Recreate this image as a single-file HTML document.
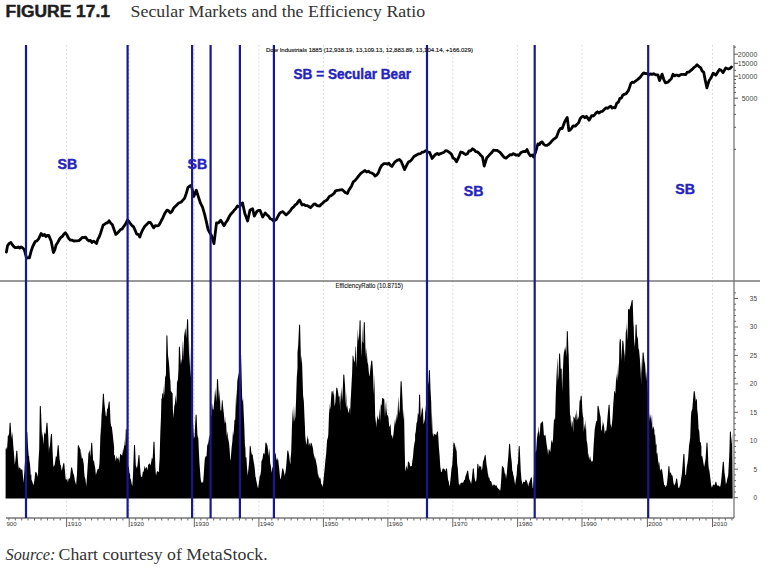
<!DOCTYPE html><html><head><meta charset="utf-8"><style>
html,body{margin:0;padding:0;background:#fff;}
body{width:768px;height:572px;overflow:hidden;position:relative;}
svg{position:absolute;left:0;top:0;}
.t{position:absolute;white-space:nowrap;}
</style></head><body>
<svg width="768" height="572" viewBox="0 0 768 572">
<line x1="66.6" y1="45" x2="66.6" y2="518" stroke="#d4d4d4" stroke-width="1" stroke-dasharray="1.5,2.5"/>
<line x1="129.2" y1="45" x2="129.2" y2="518" stroke="#d4d4d4" stroke-width="1" stroke-dasharray="1.5,2.5"/>
<line x1="194.3" y1="45" x2="194.3" y2="518" stroke="#d4d4d4" stroke-width="1" stroke-dasharray="1.5,2.5"/>
<line x1="258.9" y1="45" x2="258.9" y2="518" stroke="#d4d4d4" stroke-width="1" stroke-dasharray="1.5,2.5"/>
<line x1="323.4" y1="45" x2="323.4" y2="518" stroke="#d4d4d4" stroke-width="1" stroke-dasharray="1.5,2.5"/>
<line x1="387.9" y1="45" x2="387.9" y2="518" stroke="#d4d4d4" stroke-width="1" stroke-dasharray="1.5,2.5"/>
<line x1="452.8" y1="45" x2="452.8" y2="518" stroke="#d4d4d4" stroke-width="1" stroke-dasharray="1.5,2.5"/>
<line x1="517.6" y1="45" x2="517.6" y2="518" stroke="#d4d4d4" stroke-width="1" stroke-dasharray="1.5,2.5"/>
<line x1="582.0" y1="45" x2="582.0" y2="518" stroke="#d4d4d4" stroke-width="1" stroke-dasharray="1.5,2.5"/>
<line x1="647.4" y1="45" x2="647.4" y2="518" stroke="#d4d4d4" stroke-width="1" stroke-dasharray="1.5,2.5"/>
<line x1="712.5" y1="45" x2="712.5" y2="518" stroke="#d4d4d4" stroke-width="1" stroke-dasharray="1.5,2.5"/>
<polygon points="5.6,498.6 5.6,447.1 5.6,449.2 6.3,447.0 7.0,450.0 7.7,439.1 7.8,435.9 8.4,435.8 9.1,433.2 9.6,423.1 10.1,422.5 10.6,423.1 11.2,432.7 11.9,438.5 12.3,431.5 12.6,435.6 13.3,445.7 14.0,454.0 14.5,460.5 14.7,464.7 15.4,460.6 16.3,451.1 16.8,450.5 17.3,451.1 18.2,464.3 18.9,468.9 19.0,467.2 19.6,467.8 20.3,468.1 21.0,470.2 21.7,469.0 22.4,469.7 22.4,469.5 23.1,478.3 23.5,482.9 23.8,478.6 24.5,469.9 24.6,467.2 25.2,459.1 25.9,453.6 26.3,432.1 26.8,431.5 27.3,432.1 28.0,447.0 28.7,455.9 29.1,456.1 29.4,460.2 30.1,464.8 30.8,475.6 31.3,474.0 31.5,479.7 32.2,481.2 32.9,483.4 33.6,485.4 33.6,485.1 34.3,481.0 35.3,472.3 35.8,471.7 36.3,472.3 37.1,473.9 37.8,477.3 38.0,474.0 38.5,460.3 39.2,449.4 39.8,406.3 40.3,405.7 40.8,406.3 41.3,418.1 42.0,437.7 42.5,431.5 42.7,434.6 43.4,444.8 44.1,434.4 44.7,432.6 44.8,432.2 45.5,434.6 46.5,423.1 47.0,422.5 47.5,423.1 48.3,437.1 49.0,453.2 49.2,444.9 49.7,448.9 50.4,439.2 51.0,434.3 51.5,433.7 52.0,434.3 52.5,449.0 53.2,464.5 53.7,467.2 53.9,466.4 54.6,464.9 55.3,460.7 55.9,456.1 56.0,455.9 56.7,457.2 57.7,445.5 58.2,444.9 58.7,445.5 59.5,458.3 60.2,463.5 60.4,465.0 60.9,465.2 61.6,470.7 62.3,468.3 63.3,463.4 63.8,462.8 64.3,463.4 65.1,472.8 65.8,480.1 66.0,478.4 66.5,480.1 67.2,478.4 67.9,482.4 68.6,478.6 69.3,478.7 69.4,478.4 70.0,478.1 71.1,467.8 71.6,467.2 72.1,467.8 72.8,471.0 73.5,474.8 73.8,474.0 74.2,476.2 74.9,480.7 75.6,483.1 76.1,485.1 76.3,482.2 77.0,474.2 77.8,445.5 78.3,444.9 78.8,445.5 79.8,448.2 80.5,449.5 81.2,458.5 81.7,451.6 81.9,458.9 82.6,457.6 83.3,461.6 83.9,465.0 84.0,469.5 84.7,477.0 85.4,478.9 86.1,485.1 86.1,487.5 86.8,479.2 87.5,468.4 88.2,458.0 88.4,453.8 88.9,452.2 89.6,449.7 90.3,456.9 91.2,443.2 91.7,442.6 92.2,443.2 93.1,459.6 93.8,461.8 94.0,460.5 94.5,464.2 95.2,468.1 95.9,474.9 96.2,474.0 96.6,472.4 97.3,469.9 98.0,468.8 98.7,469.1 99.4,464.1 99.6,460.5 100.1,445.1 100.7,424.7 100.8,436.2 101.5,416.1 102.2,407.3 102.9,394.0 103.4,393.4 103.9,394.0 104.3,401.7 105.0,408.7 105.6,413.6 105.7,415.6 106.4,416.6 107.1,408.8 107.8,408.5 108.7,401.9 109.2,401.3 109.7,401.9 110.6,422.7 111.3,426.6 111.9,427.0 112.0,428.2 112.7,434.3 113.4,440.7 114.1,447.1 114.1,455.6 114.8,454.7 115.5,461.3 116.2,455.7 116.3,456.1 116.9,459.3 117.6,457.6 118.3,460.0 119.0,456.0 119.7,463.6 120.0,454.8 120.4,453.8 121.1,454.8 121.8,455.5 122.2,449.2 122.5,456.1 123.2,450.7 123.9,447.4 124.5,439.1 124.6,446.1 125.3,445.3 125.8,429.6 126.3,429.0 126.8,429.6 127.4,458.8 127.8,459.2 128.1,466.8 128.8,466.7 129.5,473.6 130.1,473.8 130.2,478.0 130.9,479.6 131.6,483.5 132.3,486.1 132.3,486.5 133.0,474.7 134.0,445.3 134.5,444.7 135.0,445.3 135.8,465.0 136.5,468.7 136.8,466.0 137.2,467.6 137.9,461.6 138.5,455.4 139.0,454.8 139.5,455.4 140.0,465.8 140.7,475.1 141.3,477.1 141.4,476.8 142.1,477.1 142.8,472.1 143.5,471.8 144.2,468.8 144.6,466.0 144.9,466.2 145.6,468.9 146.3,467.0 147.0,467.7 147.7,470.6 148.0,464.8 148.4,464.8 149.1,463.7 149.8,463.6 150.5,465.6 151.2,461.9 151.3,461.5 151.9,457.3 152.6,459.5 153.5,442.0 154.0,441.4 154.5,442.0 155.4,467.3 155.8,473.8 156.1,475.4 156.8,471.7 157.5,470.9 158.2,472.1 158.9,471.8 159.1,466.0 159.6,458.7 160.3,432.9 161.0,416.5 161.4,398.8 161.7,399.0 162.4,393.1 163.1,393.9 163.6,385.4 163.8,398.6 164.5,390.0 165.2,375.0 165.9,377.2 166.4,335.8 166.9,335.2 167.4,335.8 168.0,355.3 168.7,360.4 169.4,368.4 170.1,380.3 170.3,378.7 170.8,391.0 171.5,391.8 172.2,392.9 172.6,393.3 172.9,409.4 173.6,417.7 174.3,405.8 174.8,404.4 175.0,402.4 175.7,394.8 176.4,404.3 177.0,381.0 177.1,379.6 177.8,382.4 178.5,368.4 178.9,347.0 179.4,346.4 179.9,347.0 180.6,360.4 181.0,365.0 181.3,361.8 182.0,358.5 182.7,343.8 183.0,340.0 183.4,360.1 184.1,336.3 184.8,331.7 185.0,330.0 185.5,328.0 186.2,338.7 187.1,319.7 187.6,319.1 188.1,319.7 189.0,353.2 189.7,367.2 189.9,339.4 190.4,369.0 191.1,379.2 191.6,394.4 191.8,402.8 192.5,412.3 193.2,425.3 193.8,436.9 193.9,438.7 194.6,436.2 195.6,415.1 196.1,414.5 196.6,415.1 197.4,434.6 198.1,438.3 198.3,436.9 198.8,450.0 199.5,463.4 200.2,472.5 200.5,477.1 200.9,480.6 201.6,482.9 202.3,481.5 202.8,482.7 203.0,483.5 203.7,474.9 204.4,464.1 205.0,457.0 205.1,458.1 205.8,455.9 206.5,456.5 207.2,445.5 207.9,443.7 208.4,436.9 208.6,444.8 209.3,437.0 210.0,435.0 210.7,417.9 211.4,415.1 211.7,404.4 212.1,403.3 212.8,409.5 213.5,409.5 214.2,401.1 214.7,390.0 214.9,400.5 215.6,387.5 216.3,402.3 217.0,379.6 217.5,379.0 218.0,379.6 219.1,401.2 219.6,389.9 219.8,392.8 220.5,410.5 221.2,410.6 221.9,400.4 222.5,400.0 222.6,400.8 223.3,408.8 224.0,415.0 224.7,424.1 225.1,416.7 225.4,422.3 226.1,422.7 226.8,436.2 227.5,431.0 228.2,443.2 228.5,436.9 228.9,441.3 229.6,449.2 230.3,460.5 230.7,459.2 231.0,455.6 231.7,446.8 232.4,441.0 233.0,430.2 233.1,436.2 233.8,431.2 234.5,419.7 235.2,419.8 235.9,398.9 236.3,388.8 236.6,406.7 237.3,381.3 238.0,377.0 238.5,372.0 238.7,377.4 239.4,366.8 240.1,355.1 240.6,354.5 241.1,355.1 242.2,399.1 242.9,401.4 243.0,396.6 243.6,411.2 244.3,426.6 245.0,447.8 245.3,445.8 245.7,457.7 246.4,457.1 247.1,468.8 247.8,475.9 248.0,472.7 248.5,468.3 249.2,460.7 249.7,446.4 250.2,445.8 250.7,446.4 251.3,451.9 252.0,455.2 252.7,454.0 253.4,464.3 253.6,457.0 254.1,463.5 254.8,468.9 255.5,477.5 255.8,477.1 256.2,480.3 256.9,483.2 257.6,487.1 258.1,488.3 258.3,486.7 259.0,482.0 259.7,476.1 260.4,474.9 261.1,469.8 261.4,461.5 261.8,460.4 262.5,458.7 263.2,454.0 263.9,452.7 264.6,454.7 265.4,443.1 265.9,442.5 266.4,443.1 267.4,445.4 268.1,450.1 268.8,456.1 269.3,448.1 269.5,450.5 270.2,463.1 270.9,466.0 271.5,472.7 271.6,472.3 272.3,468.1 273.0,466.8 273.7,460.1 274.3,453.1 274.8,452.5 275.3,453.1 275.8,454.6 276.5,460.4 277.2,457.4 277.9,460.7 278.2,459.2 278.6,463.3 279.3,469.5 280.0,477.0 280.4,479.4 280.7,478.7 281.4,475.2 282.2,468.8 282.7,468.2 283.2,468.8 284.2,473.0 284.9,476.8 284.9,474.9 285.6,471.4 286.3,465.0 287.3,450.9 287.8,450.3 288.3,450.9 289.1,455.1 289.8,461.5 290.5,464.4 290.5,459.2 291.2,451.9 291.9,427.9 292.6,411.9 292.7,407.8 293.3,421.9 294.0,405.3 294.7,421.7 295.4,416.1 296.1,399.2 296.1,398.8 296.8,377.0 297.5,367.8 297.5,352.4 298.2,345.2 299.1,325.1 299.6,324.5 300.1,325.1 301.0,363.9 301.7,355.3 301.9,357.7 302.4,373.2 303.1,395.6 303.8,400.7 304.5,417.2 305.0,427.9 305.2,435.0 305.9,441.9 306.6,445.0 307.3,434.9 308.0,440.0 308.4,438.0 308.7,445.4 309.4,442.6 310.1,446.2 310.8,442.4 311.5,443.2 311.8,443.6 312.2,445.3 312.9,448.1 313.6,453.8 314.3,456.1 315.0,459.3 315.1,457.0 315.7,459.9 316.4,463.2 317.1,466.5 317.8,473.6 318.5,477.8 318.5,472.7 319.2,478.9 319.9,477.0 320.6,479.1 321.3,484.4 322.0,484.0 322.7,487.0 322.9,486.1 323.4,481.0 324.1,474.1 324.8,467.1 325.5,459.2 326.2,453.5 326.9,442.4 327.4,436.9 327.6,440.3 328.3,434.4 329.0,414.1 329.7,407.2 329.7,403.3 330.4,409.6 331.1,397.6 331.6,390.9 331.8,391.6 332.5,390.9 333.2,395.5 333.9,389.4 334.6,406.4 335.3,402.6 336.3,388.0 336.8,387.4 337.3,388.0 338.1,392.3 338.8,397.3 339.5,395.6 340.2,411.6 340.3,390.9 340.9,402.4 341.6,386.3 342.3,400.9 343.3,374.9 343.8,374.3 344.3,374.9 345.1,386.4 345.8,405.0 346.4,390.9 346.5,408.0 347.2,404.9 347.9,410.2 348.6,413.2 349.3,408.4 349.8,407.8 350.0,415.5 350.7,399.0 350.8,397.9 351.4,386.6 352.1,373.3 352.6,355.9 352.8,355.2 353.5,356.6 354.2,362.6 354.9,359.9 355.2,347.2 355.6,345.9 356.3,367.5 357.0,348.5 357.7,332.6 357.8,328.0 358.4,341.0 359.1,334.9 359.6,320.7 360.1,320.1 360.6,320.7 361.2,357.6 361.9,338.3 362.2,324.5 362.6,341.2 363.3,343.5 363.8,322.5 364.3,321.9 364.8,322.5 365.4,347.0 366.1,359.6 366.5,347.2 366.8,352.3 367.5,362.1 368.2,364.9 368.9,373.1 369.2,375.2 369.6,376.5 370.3,369.1 371.3,360.9 371.8,360.3 372.3,360.9 373.1,373.6 373.8,394.4 374.4,373.4 374.5,384.1 375.2,416.5 375.9,422.9 376.0,419.0 376.6,427.7 377.3,414.8 378.0,418.6 378.7,420.3 379.4,407.8 379.4,407.8 380.1,421.7 380.8,404.0 381.5,405.7 382.2,398.3 382.7,397.7 383.2,398.3 384.3,399.4 385.0,417.6 385.7,404.2 386.1,401.1 386.4,408.5 387.1,414.7 387.8,415.4 388.3,416.7 388.5,418.6 389.2,426.3 389.9,426.5 390.5,423.5 390.6,425.4 391.3,436.1 392.0,434.8 392.7,438.4 392.8,439.1 393.4,434.4 394.1,427.2 394.8,421.2 395.0,419.0 395.5,425.1 396.2,413.8 396.9,421.3 397.6,412.7 398.3,397.3 398.4,396.6 399.0,413.8 399.7,408.6 400.6,381.6 401.1,381.0 401.6,381.6 402.5,399.7 403.2,420.3 403.9,410.1 404.0,410.0 404.6,443.7 405.1,466.0 405.3,471.5 406.0,468.3 406.7,465.3 407.4,469.7 407.9,462.1 408.4,461.5 408.9,462.1 409.5,463.1 410.2,466.6 410.9,466.2 411.6,466.0 411.8,466.0 412.3,461.3 413.0,457.0 413.7,448.1 414.4,443.5 415.1,440.3 415.1,434.6 415.8,431.3 416.5,423.1 417.2,421.5 417.9,412.7 418.6,414.9 419.1,395.0 419.6,394.4 420.1,395.0 420.7,417.4 421.4,413.0 422.1,406.9 422.8,409.3 423.0,410.0 423.5,424.6 424.2,422.0 424.9,418.8 425.2,412.3 425.6,409.9 426.3,400.6 427.0,400.9 427.7,389.8 427.9,380.0 428.4,385.2 428.9,370.6 429.4,370.0 429.9,370.6 430.5,389.4 431.2,401.7 431.9,428.9 431.9,412.3 432.6,432.4 433.3,437.1 434.0,432.7 434.2,434.6 434.7,434.1 435.4,434.4 436.1,435.1 437.0,431.9 437.5,431.3 438.0,431.9 438.9,447.5 439.6,455.5 440.3,466.7 440.9,470.4 441.0,472.0 441.7,471.9 442.6,468.8 443.1,468.2 443.6,468.8 444.5,468.9 445.2,471.6 446.0,468.8 446.5,468.2 447.0,468.8 448.0,479.3 448.7,481.6 449.4,485.7 449.8,486.1 450.1,483.1 450.8,476.3 451.5,468.4 452.2,465.6 452.9,454.4 453.4,443.1 453.9,442.5 454.4,443.1 455.0,445.1 455.7,448.0 456.4,451.6 456.5,445.8 457.1,463.0 457.8,468.5 458.5,479.5 458.8,483.9 459.2,483.7 459.9,485.7 460.6,483.0 461.3,482.6 462.0,483.3 462.7,482.6 463.2,481.6 463.4,482.7 464.1,479.7 464.8,480.1 465.5,475.9 466.2,474.4 467.2,471.0 467.7,470.4 468.2,471.0 469.0,478.0 469.7,480.3 470.4,481.4 471.1,484.0 471.1,483.9 471.8,479.4 472.8,468.8 473.3,468.2 473.8,468.8 474.6,478.1 475.3,481.1 475.6,481.6 476.0,481.8 476.7,477.2 477.3,464.3 477.8,463.7 478.3,464.3 478.8,468.8 479.5,465.5 480.2,466.0 480.9,466.9 481.1,466.0 481.6,470.6 482.3,468.5 483.0,461.3 483.7,459.9 484.7,455.4 485.2,454.8 485.7,455.4 486.5,464.5 487.2,468.3 487.9,474.3 487.9,472.7 488.6,477.5 489.3,477.6 490.0,480.9 490.7,481.0 491.4,481.7 492.1,485.1 492.3,483.9 492.8,486.3 493.5,484.4 494.2,484.4 494.9,485.3 495.6,485.5 496.3,485.8 496.8,485.0 497.0,487.8 497.7,487.5 498.4,489.1 499.1,488.8 499.8,490.5 500.2,490.6 500.5,488.7 501.2,479.4 501.9,466.6 502.4,466.0 502.9,466.6 504.0,468.2 504.0,468.2 504.7,473.2 505.4,474.0 506.1,479.1 506.2,477.1 506.8,473.5 507.5,464.7 508.2,457.8 509.1,444.2 509.6,443.6 510.1,444.2 511.0,456.3 511.7,461.5 512.4,472.4 512.9,470.4 513.1,474.0 513.8,476.8 514.5,480.9 515.2,485.4 515.2,483.9 515.9,479.4 516.6,475.3 517.3,465.1 518.0,462.9 518.7,446.4 519.2,445.8 519.7,446.4 520.8,471.4 521.5,479.8 521.9,481.6 522.2,484.6 522.9,482.5 523.6,481.6 524.3,482.1 525.0,482.3 525.4,480.0 525.9,479.4 526.4,480.0 527.1,481.5 527.8,484.3 528.5,486.7 528.6,483.9 529.2,482.8 529.9,480.7 530.8,477.7 531.3,477.1 531.8,477.7 532.7,488.2 533.1,488.3 533.4,483.1 534.1,471.6 534.8,459.0 535.3,450.3 535.5,453.0 536.2,450.4 536.9,439.1 537.6,433.7 538.3,431.5 538.7,425.7 539.0,430.3 539.7,436.8 540.4,423.7 541.1,423.0 542.0,421.8 542.5,421.2 543.0,421.8 543.9,435.0 544.6,435.7 545.3,434.8 545.4,434.6 546.0,439.3 546.7,444.7 547.4,449.2 547.6,450.3 548.1,455.0 548.8,448.9 549.5,449.7 550.2,452.3 550.9,446.3 551.0,443.6 551.6,439.5 552.3,443.3 553.0,439.2 553.7,423.4 554.3,416.7 554.4,419.8 555.1,419.5 555.8,393.7 556.5,376.7 557.2,362.5 557.5,356.8 557.9,381.7 558.6,373.4 559.1,353.9 559.6,353.3 560.1,353.9 560.7,368.7 561.4,368.5 561.7,368.7 562.1,391.8 562.8,372.4 563.5,356.8 564.2,350.0 564.5,347.7 564.9,352.2 565.6,345.5 566.3,357.5 566.8,331.6 567.3,331.0 567.8,331.6 568.4,350.4 568.7,354.7 569.1,373.7 569.8,407.2 570.0,414.5 570.5,416.0 571.2,427.9 571.9,420.1 572.6,422.9 573.3,432.8 573.4,416.7 574.0,416.7 574.7,418.9 575.4,413.0 576.1,421.6 576.7,410.0 576.8,409.7 577.5,419.7 578.2,418.5 578.9,415.8 579.6,400.8 580.3,399.9 580.7,396.1 581.2,395.5 581.7,396.1 582.4,411.3 583.1,417.5 583.4,416.7 583.8,432.0 584.5,423.4 585.2,430.3 585.7,419.0 585.9,423.3 586.6,440.1 587.3,443.7 587.9,450.3 588.0,458.6 588.7,452.4 589.4,460.1 590.1,456.1 590.8,459.9 591.5,461.4 592.2,461.2 592.4,461.5 592.9,460.5 593.6,445.5 594.3,435.7 594.6,430.2 595.0,427.4 595.7,423.7 596.4,420.7 597.1,421.0 597.5,406.2 598.0,405.6 598.5,406.2 599.2,409.5 599.9,414.1 600.6,417.1 601.3,431.2 602.0,428.9 602.4,419.0 602.7,426.7 603.4,422.3 604.1,426.7 604.8,434.1 605.5,430.0 605.8,430.2 606.2,431.6 606.9,424.8 607.6,416.1 608.6,405.0 609.1,404.4 609.6,405.0 610.4,423.8 611.1,426.1 611.4,427.9 611.8,424.6 612.5,417.9 613.2,405.0 613.9,396.1 614.1,391.0 614.6,391.3 615.3,393.8 616.0,380.8 616.7,375.9 617.0,373.0 617.4,382.1 618.1,362.5 618.8,377.3 619.4,343.6 619.8,339.6 620.3,339.0 620.8,339.6 621.6,361.3 622.3,340.2 623.0,340.9 623.1,340.3 623.7,344.2 624.4,361.9 624.5,348.7 625.1,356.6 625.8,332.5 626.5,327.8 626.6,320.8 627.2,341.6 627.9,323.6 628.0,309.6 628.6,309.1 629.3,309.8 630.0,307.9 630.1,306.8 630.7,305.4 631.7,300.4 632.2,299.8 632.7,300.4 633.5,327.1 633.6,322.2 634.2,345.1 634.3,339.0 634.9,347.9 635.6,324.9 636.1,324.3 636.6,324.9 637.0,335.6 637.7,339.1 637.8,336.2 638.4,348.1 639.1,350.4 639.2,351.5 639.8,357.8 640.5,369.0 641.2,384.2 641.3,357.1 641.9,373.3 642.6,352.8 643.1,352.2 643.6,352.8 644.0,357.0 644.7,363.8 644.8,361.3 645.4,368.2 646.1,380.3 646.2,370.0 646.8,378.2 647.5,390.4 647.7,389.9 648.2,400.4 648.9,414.1 649.6,421.4 649.9,412.3 650.3,419.1 651.0,413.8 651.7,424.0 652.1,414.5 652.4,429.9 653.1,426.0 653.8,427.9 654.4,430.2 654.5,434.2 655.2,435.3 655.9,445.4 656.6,443.6 656.6,454.3 657.3,451.9 658.0,459.5 658.7,466.0 658.8,461.5 659.4,463.3 660.1,470.9 660.8,469.2 661.5,468.8 662.2,470.4 662.2,470.4 662.9,475.3 663.6,480.9 664.3,485.7 664.4,485.0 665.0,485.3 665.7,487.3 666.4,485.4 666.7,485.0 667.1,482.3 667.8,475.6 668.4,466.6 668.9,466.0 669.4,466.6 669.9,473.5 670.6,472.1 671.3,473.9 672.0,475.7 672.3,474.9 672.7,476.8 673.4,482.6 674.1,485.5 674.5,483.9 674.8,485.2 675.5,482.6 676.2,478.9 676.7,478.3 677.2,478.9 677.6,482.5 678.3,487.4 679.0,488.3 679.0,488.4 679.7,486.0 680.4,484.2 681.1,478.9 681.2,478.3 681.8,474.4 682.5,466.5 683.4,454.3 683.9,453.7 684.4,454.3 685.3,475.2 685.7,474.9 686.0,474.5 686.7,466.7 687.4,463.4 688.1,458.6 688.8,449.1 689.0,445.8 689.5,442.7 690.2,437.4 690.9,418.1 691.3,412.3 691.6,410.8 692.3,409.1 693.0,400.2 693.7,391.6 694.2,391.0 694.7,391.6 695.1,394.2 695.8,401.2 696.5,399.0 696.9,398.8 697.2,409.2 697.9,415.0 698.6,429.3 699.1,430.2 699.3,431.7 700.0,442.3 700.7,442.1 701.4,446.9 701.4,456.4 702.1,455.4 702.8,459.0 703.5,463.6 704.0,466.0 704.2,467.1 704.9,462.7 705.6,458.7 706.5,443.1 707.0,442.5 707.5,443.1 708.4,464.4 709.1,471.6 709.2,468.2 709.8,473.9 710.5,479.5 711.2,485.4 711.4,486.1 711.9,487.7 712.6,485.7 713.3,485.0 714.0,484.1 714.7,485.4 715.4,482.2 715.9,481.6 716.4,482.2 716.8,484.2 717.5,485.7 718.2,485.5 718.9,485.6 719.6,486.8 720.3,486.2 720.4,486.1 721.0,482.2 721.7,475.1 722.8,462.1 723.3,461.5 723.8,462.1 724.5,472.3 725.2,477.3 725.9,484.6 726.0,483.9 726.6,482.4 727.3,478.8 728.0,476.1 728.2,474.9 728.7,466.0 729.4,451.6 729.9,431.9 730.4,431.3 730.9,431.9 731.5,444.4 732.2,432.4 732.2,438.3 732.7,498.6" fill="#000"/>
<line x1="0" y1="281" x2="760" y2="281" stroke="#777" stroke-width="1.3"/>
<line x1="734" y1="45" x2="734" y2="518" stroke="#777" stroke-width="1.3"/>
<line x1="6" y1="518" x2="734" y2="518" stroke="#777" stroke-width="1.3"/>
<polyline points="6.4,252.1 7.5,245.9 9.2,243.4 10.9,242.4 13.4,246.2 15.1,247.6 16.8,247.7 18.3,247.0 19.8,248.0 21.2,247.0 22.7,247.9 24.3,249.6 26.5,258.0 27.9,257.9 29.4,257.9 31.1,251.3 32.7,246.5 35.2,241.5 36.9,240.9 38.6,238.9 41.1,233.5 42.8,235.6 44.5,234.4 45.9,236.5 47.3,235.5 48.7,235.4 51.2,241.3 53.4,252.6 54.8,249.9 56.2,244.7 57.9,242.2 59.6,239.0 61.1,237.2 62.5,236.3 64.0,234.0 65.4,232.7 67.1,235.3 68.8,238.6 70.5,240.2 72.2,240.2 73.8,241.0 75.5,240.9 77.2,240.8 78.9,240.7 80.5,239.4 82.2,237.3 83.9,237.6 85.6,237.1 87.2,239.5 88.9,240.9 90.4,240.4 91.9,242.5 93.5,241.1 95.0,242.2 96.5,243.5 97.9,239.1 99.3,236.7 100.7,232.7 103.2,224.9 104.7,224.2 106.2,223.0 107.6,222.8 109.1,220.7 110.8,223.2 112.4,224.7 114.1,229.7 115.8,234.4 117.4,233.1 119.1,231.3 120.5,229.5 122.0,229.1 123.4,227.0 125.5,224.2 127.6,219.9 130.1,223.2 131.8,225.3 133.4,226.6 135.1,230.2 136.8,234.2 138.3,234.4 139.8,237.1 141.2,233.1 142.7,229.7 144.8,226.2 146.8,224.4 148.5,222.5 150.2,222.3 151.9,224.8 153.6,227.9 155.3,225.6 156.9,225.9 158.6,225.5 160.0,223.4 161.4,220.5 162.8,217.8 164.9,213.2 167.0,210.1 168.7,210.8 170.3,212.8 172.0,211.4 173.7,207.9 175.4,206.3 177.0,204.7 178.7,203.0 180.2,202.5 181.6,201.7 183.1,199.9 184.6,198.3 186.3,193.4 188.0,187.4 189.7,186.1 191.3,185.3 193.8,196.5 196.3,190.2 198.4,196.8 200.5,203.2 202.6,207.3 204.7,214.6 206.4,221.9 208.1,229.6 209.8,232.8 211.4,235.3 214.0,243.7 216.5,222.9 218.6,222.8 220.7,220.2 222.3,222.8 224.0,225.7 225.7,222.8 227.3,220.5 229.0,217.1 230.7,214.3 232.4,212.5 234.1,210.3 235.7,208.8 237.4,206.0 239.1,206.7 240.8,205.1 242.5,202.9 245.0,214.1 247.6,221.0 250.0,210.1 252.6,208.8 254.3,216.2 256.8,211.5 258.5,210.3 260.1,210.4 262.7,217.1 265.2,212.9 266.9,214.9 268.5,216.1 270.2,218.7 271.9,219.3 273.6,221.1 276.1,219.8 277.8,216.6 279.4,213.6 281.1,212.2 282.8,211.6 284.4,213.3 286.1,214.9 288.2,212.9 290.3,210.8 292.0,208.2 293.7,206.8 295.4,204.7 296.8,204.0 298.2,201.5 299.6,200.1 302.1,205.0 303.8,204.5 305.4,205.5 307.1,205.6 308.8,206.5 310.5,207.7 312.1,206.1 313.8,204.2 315.3,203.9 316.8,205.4 318.2,205.9 319.7,206.0 321.2,204.3 322.7,203.2 324.2,201.5 325.7,200.8 327.2,199.7 329.3,196.5 331.4,195.5 332.8,194.4 334.2,193.2 335.6,190.8 337.3,190.3 339.0,190.1 340.6,189.8 342.3,189.6 344.0,191.4 345.7,192.8 347.4,193.5 348.8,190.2 350.2,188.1 351.6,185.9 353.3,181.8 354.9,180.6 356.6,178.6 358.7,175.8 360.8,173.3 362.9,171.9 365.0,170.5 366.7,172.0 368.4,171.2 370.0,172.5 371.7,173.0 373.4,173.9 375.1,176.0 376.8,175.1 378.5,172.5 380.1,168.3 381.8,165.3 383.9,163.7 386.0,163.7 387.5,164.1 388.9,163.3 390.4,165.4 391.9,166.4 393.3,164.2 394.7,162.2 396.1,161.2 397.8,160.0 399.4,159.5 401.1,161.3 402.8,165.2 404.5,169.6 407.0,164.6 408.7,161.8 410.3,161.1 412.0,159.3 413.7,156.8 415.3,155.8 417.0,154.7 418.7,153.8 420.4,153.7 422.1,152.2 423.8,152.0 425.4,150.8 427.1,151.9 429.6,152.4 432.1,158.5 433.8,156.3 435.5,154.5 437.2,153.4 438.8,154.5 440.5,153.6 442.2,153.0 443.9,152.4 445.5,150.6 447.2,150.9 449.3,152.4 451.4,154.1 453.1,158.1 454.8,159.0 456.5,161.9 458.6,157.4 460.7,152.0 462.4,152.4 464.0,153.6 465.7,154.5 467.4,153.8 469.0,151.0 470.7,150.8 472.4,148.8 474.1,149.7 475.7,151.7 477.4,151.9 479.1,153.4 480.8,155.3 482.5,157.0 484.2,166.0 486.7,158.0 489.0,155.4 490.5,153.7 491.9,152.4 493.4,150.2 495.1,150.4 496.8,150.3 498.5,151.3 500.1,152.4 501.8,154.5 503.9,157.2 506.0,158.2 508.1,156.3 510.2,154.7 511.6,154.9 513.0,153.7 514.4,154.1 515.8,155.2 517.2,154.8 518.6,155.6 520.7,152.8 522.8,151.6 524.2,151.5 525.6,151.5 527.0,149.5 528.6,153.3 530.3,155.8 532.0,155.0 533.7,157.0 535.8,151.4 537.9,143.9 539.3,144.6 540.7,142.5 542.1,141.9 543.8,144.4 545.4,145.4 547.1,145.4 548.8,144.3 550.4,142.8 552.1,140.7 554.2,138.8 556.3,137.4 558.9,130.7 560.5,128.3 562.2,128.6 564.7,121.7 567.2,117.4 568.9,130.6 570.3,129.9 571.7,128.2 573.1,125.8 575.2,126.2 577.3,124.1 578.7,122.6 580.1,118.7 581.5,117.1 583.2,116.3 584.8,117.7 586.5,116.3 589.1,120.2 591.6,115.7 593.0,116.0 594.5,115.0 596.0,112.9 597.4,111.8 599.1,113.0 600.8,111.6 602.5,111.3 605.0,108.7 606.4,107.8 607.8,108.3 609.2,106.9 610.7,106.2 612.2,108.1 613.6,107.4 615.1,107.8 616.8,103.2 618.5,102.0 619.9,98.3 621.3,98.1 622.7,95.3 624.4,94.2 626.0,93.8 628.5,90.4 631.0,83.1 632.4,82.2 633.8,82.5 635.2,81.3 637.8,79.4 640.3,77.1 642.0,74.7 643.6,72.9 645.3,73.5 647.0,73.7 648.7,75.0 650.4,73.9 652.0,74.4 653.7,73.7 655.8,74.9 657.9,75.0 659.6,80.6 662.1,74.1 663.8,79.5 665.4,82.9 668.0,82.1 669.7,80.2 671.3,78.7 673.0,74.3 674.5,75.9 676.0,75.1 677.4,75.2 678.9,75.9 680.6,74.6 682.2,74.4 683.9,74.4 685.6,74.7 687.3,72.1 688.9,72.1 690.6,70.7 692.2,69.4 693.8,67.7 695.4,66.5 697.0,64.7 698.8,66.3 700.6,67.6 702.2,71.1 703.7,72.2 705.3,80.4 706.9,87.9 709.0,80.8 710.4,78.7 711.8,76.2 713.2,73.2 715.8,75.2 717.6,72.2 719.4,69.4 721.2,70.3 723.1,72.6 725.7,68.0 728.4,69.0 730.0,68.5 731.5,66.9" fill="none" stroke="#000" stroke-width="2.8" stroke-linejoin="round" stroke-linecap="round"/>
<line x1="26" y1="45" x2="26" y2="518" stroke="#18188f" stroke-width="2.2"/>
<line x1="127.6" y1="45" x2="127.6" y2="518" stroke="#18188f" stroke-width="2.2"/>
<line x1="192.1" y1="45" x2="192.1" y2="518" stroke="#18188f" stroke-width="2.2"/>
<line x1="210.6" y1="45" x2="210.6" y2="518" stroke="#18188f" stroke-width="2.2"/>
<line x1="239.9" y1="45" x2="239.9" y2="518" stroke="#18188f" stroke-width="2.2"/>
<line x1="273.9" y1="45" x2="273.9" y2="518" stroke="#18188f" stroke-width="2.2"/>
<line x1="427.0" y1="45" x2="427.0" y2="518" stroke="#18188f" stroke-width="2.2"/>
<line x1="534.7" y1="45" x2="534.7" y2="518" stroke="#18188f" stroke-width="2.2"/>
<line x1="648.2" y1="45" x2="648.2" y2="518" stroke="#18188f" stroke-width="2.2"/>
<line x1="8.9" y1="518" x2="8.9" y2="520.5" stroke="#666" stroke-width="1"/>
<line x1="15.3" y1="518" x2="15.3" y2="520.5" stroke="#666" stroke-width="1"/>
<line x1="21.7" y1="518" x2="21.7" y2="520.5" stroke="#666" stroke-width="1"/>
<line x1="28.1" y1="518" x2="28.1" y2="520.5" stroke="#666" stroke-width="1"/>
<line x1="34.5" y1="518" x2="34.5" y2="520.5" stroke="#666" stroke-width="1"/>
<line x1="41.0" y1="518" x2="41.0" y2="520.5" stroke="#666" stroke-width="1"/>
<line x1="47.4" y1="518" x2="47.4" y2="520.5" stroke="#666" stroke-width="1"/>
<line x1="53.8" y1="518" x2="53.8" y2="520.5" stroke="#666" stroke-width="1"/>
<line x1="60.2" y1="518" x2="60.2" y2="520.5" stroke="#666" stroke-width="1"/>
<line x1="66.6" y1="518" x2="66.6" y2="527" stroke="#666" stroke-width="1"/>
<line x1="72.9" y1="518" x2="72.9" y2="520.5" stroke="#666" stroke-width="1"/>
<line x1="79.1" y1="518" x2="79.1" y2="520.5" stroke="#666" stroke-width="1"/>
<line x1="85.4" y1="518" x2="85.4" y2="520.5" stroke="#666" stroke-width="1"/>
<line x1="91.6" y1="518" x2="91.6" y2="520.5" stroke="#666" stroke-width="1"/>
<line x1="97.9" y1="518" x2="97.9" y2="520.5" stroke="#666" stroke-width="1"/>
<line x1="104.1" y1="518" x2="104.1" y2="520.5" stroke="#666" stroke-width="1"/>
<line x1="110.4" y1="518" x2="110.4" y2="520.5" stroke="#666" stroke-width="1"/>
<line x1="116.6" y1="518" x2="116.6" y2="520.5" stroke="#666" stroke-width="1"/>
<line x1="122.9" y1="518" x2="122.9" y2="520.5" stroke="#666" stroke-width="1"/>
<line x1="129.2" y1="518" x2="129.2" y2="527" stroke="#666" stroke-width="1"/>
<line x1="135.7" y1="518" x2="135.7" y2="520.5" stroke="#666" stroke-width="1"/>
<line x1="142.2" y1="518" x2="142.2" y2="520.5" stroke="#666" stroke-width="1"/>
<line x1="148.7" y1="518" x2="148.7" y2="520.5" stroke="#666" stroke-width="1"/>
<line x1="155.2" y1="518" x2="155.2" y2="520.5" stroke="#666" stroke-width="1"/>
<line x1="161.7" y1="518" x2="161.7" y2="520.5" stroke="#666" stroke-width="1"/>
<line x1="168.2" y1="518" x2="168.2" y2="520.5" stroke="#666" stroke-width="1"/>
<line x1="174.8" y1="518" x2="174.8" y2="520.5" stroke="#666" stroke-width="1"/>
<line x1="181.3" y1="518" x2="181.3" y2="520.5" stroke="#666" stroke-width="1"/>
<line x1="187.8" y1="518" x2="187.8" y2="520.5" stroke="#666" stroke-width="1"/>
<line x1="194.3" y1="518" x2="194.3" y2="527" stroke="#666" stroke-width="1"/>
<line x1="200.8" y1="518" x2="200.8" y2="520.5" stroke="#666" stroke-width="1"/>
<line x1="207.2" y1="518" x2="207.2" y2="520.5" stroke="#666" stroke-width="1"/>
<line x1="213.7" y1="518" x2="213.7" y2="520.5" stroke="#666" stroke-width="1"/>
<line x1="220.1" y1="518" x2="220.1" y2="520.5" stroke="#666" stroke-width="1"/>
<line x1="226.6" y1="518" x2="226.6" y2="520.5" stroke="#666" stroke-width="1"/>
<line x1="233.0" y1="518" x2="233.0" y2="520.5" stroke="#666" stroke-width="1"/>
<line x1="239.5" y1="518" x2="239.5" y2="520.5" stroke="#666" stroke-width="1"/>
<line x1="245.9" y1="518" x2="245.9" y2="520.5" stroke="#666" stroke-width="1"/>
<line x1="252.4" y1="518" x2="252.4" y2="520.5" stroke="#666" stroke-width="1"/>
<line x1="258.9" y1="518" x2="258.9" y2="527" stroke="#666" stroke-width="1"/>
<line x1="265.3" y1="518" x2="265.3" y2="520.5" stroke="#666" stroke-width="1"/>
<line x1="271.8" y1="518" x2="271.8" y2="520.5" stroke="#666" stroke-width="1"/>
<line x1="278.2" y1="518" x2="278.2" y2="520.5" stroke="#666" stroke-width="1"/>
<line x1="284.7" y1="518" x2="284.7" y2="520.5" stroke="#666" stroke-width="1"/>
<line x1="291.1" y1="518" x2="291.1" y2="520.5" stroke="#666" stroke-width="1"/>
<line x1="297.6" y1="518" x2="297.6" y2="520.5" stroke="#666" stroke-width="1"/>
<line x1="304.0" y1="518" x2="304.0" y2="520.5" stroke="#666" stroke-width="1"/>
<line x1="310.5" y1="518" x2="310.5" y2="520.5" stroke="#666" stroke-width="1"/>
<line x1="316.9" y1="518" x2="316.9" y2="520.5" stroke="#666" stroke-width="1"/>
<line x1="323.4" y1="518" x2="323.4" y2="527" stroke="#666" stroke-width="1"/>
<line x1="329.8" y1="518" x2="329.8" y2="520.5" stroke="#666" stroke-width="1"/>
<line x1="336.3" y1="518" x2="336.3" y2="520.5" stroke="#666" stroke-width="1"/>
<line x1="342.8" y1="518" x2="342.8" y2="520.5" stroke="#666" stroke-width="1"/>
<line x1="349.2" y1="518" x2="349.2" y2="520.5" stroke="#666" stroke-width="1"/>
<line x1="355.6" y1="518" x2="355.6" y2="520.5" stroke="#666" stroke-width="1"/>
<line x1="362.1" y1="518" x2="362.1" y2="520.5" stroke="#666" stroke-width="1"/>
<line x1="368.5" y1="518" x2="368.5" y2="520.5" stroke="#666" stroke-width="1"/>
<line x1="375.0" y1="518" x2="375.0" y2="520.5" stroke="#666" stroke-width="1"/>
<line x1="381.4" y1="518" x2="381.4" y2="520.5" stroke="#666" stroke-width="1"/>
<line x1="387.9" y1="518" x2="387.9" y2="527" stroke="#666" stroke-width="1"/>
<line x1="394.4" y1="518" x2="394.4" y2="520.5" stroke="#666" stroke-width="1"/>
<line x1="400.9" y1="518" x2="400.9" y2="520.5" stroke="#666" stroke-width="1"/>
<line x1="407.4" y1="518" x2="407.4" y2="520.5" stroke="#666" stroke-width="1"/>
<line x1="413.9" y1="518" x2="413.9" y2="520.5" stroke="#666" stroke-width="1"/>
<line x1="420.4" y1="518" x2="420.4" y2="520.5" stroke="#666" stroke-width="1"/>
<line x1="426.8" y1="518" x2="426.8" y2="520.5" stroke="#666" stroke-width="1"/>
<line x1="433.3" y1="518" x2="433.3" y2="520.5" stroke="#666" stroke-width="1"/>
<line x1="439.8" y1="518" x2="439.8" y2="520.5" stroke="#666" stroke-width="1"/>
<line x1="446.3" y1="518" x2="446.3" y2="520.5" stroke="#666" stroke-width="1"/>
<line x1="452.8" y1="518" x2="452.8" y2="527" stroke="#666" stroke-width="1"/>
<line x1="459.3" y1="518" x2="459.3" y2="520.5" stroke="#666" stroke-width="1"/>
<line x1="465.8" y1="518" x2="465.8" y2="520.5" stroke="#666" stroke-width="1"/>
<line x1="472.2" y1="518" x2="472.2" y2="520.5" stroke="#666" stroke-width="1"/>
<line x1="478.7" y1="518" x2="478.7" y2="520.5" stroke="#666" stroke-width="1"/>
<line x1="485.2" y1="518" x2="485.2" y2="520.5" stroke="#666" stroke-width="1"/>
<line x1="491.7" y1="518" x2="491.7" y2="520.5" stroke="#666" stroke-width="1"/>
<line x1="498.2" y1="518" x2="498.2" y2="520.5" stroke="#666" stroke-width="1"/>
<line x1="504.6" y1="518" x2="504.6" y2="520.5" stroke="#666" stroke-width="1"/>
<line x1="511.1" y1="518" x2="511.1" y2="520.5" stroke="#666" stroke-width="1"/>
<line x1="517.6" y1="518" x2="517.6" y2="527" stroke="#666" stroke-width="1"/>
<line x1="524.0" y1="518" x2="524.0" y2="520.5" stroke="#666" stroke-width="1"/>
<line x1="530.5" y1="518" x2="530.5" y2="520.5" stroke="#666" stroke-width="1"/>
<line x1="536.9" y1="518" x2="536.9" y2="520.5" stroke="#666" stroke-width="1"/>
<line x1="543.4" y1="518" x2="543.4" y2="520.5" stroke="#666" stroke-width="1"/>
<line x1="549.8" y1="518" x2="549.8" y2="520.5" stroke="#666" stroke-width="1"/>
<line x1="556.2" y1="518" x2="556.2" y2="520.5" stroke="#666" stroke-width="1"/>
<line x1="562.7" y1="518" x2="562.7" y2="520.5" stroke="#666" stroke-width="1"/>
<line x1="569.1" y1="518" x2="569.1" y2="520.5" stroke="#666" stroke-width="1"/>
<line x1="575.6" y1="518" x2="575.6" y2="520.5" stroke="#666" stroke-width="1"/>
<line x1="582.0" y1="518" x2="582.0" y2="527" stroke="#666" stroke-width="1"/>
<line x1="588.5" y1="518" x2="588.5" y2="520.5" stroke="#666" stroke-width="1"/>
<line x1="595.1" y1="518" x2="595.1" y2="520.5" stroke="#666" stroke-width="1"/>
<line x1="601.6" y1="518" x2="601.6" y2="520.5" stroke="#666" stroke-width="1"/>
<line x1="608.2" y1="518" x2="608.2" y2="520.5" stroke="#666" stroke-width="1"/>
<line x1="614.7" y1="518" x2="614.7" y2="520.5" stroke="#666" stroke-width="1"/>
<line x1="621.2" y1="518" x2="621.2" y2="520.5" stroke="#666" stroke-width="1"/>
<line x1="627.8" y1="518" x2="627.8" y2="520.5" stroke="#666" stroke-width="1"/>
<line x1="634.3" y1="518" x2="634.3" y2="520.5" stroke="#666" stroke-width="1"/>
<line x1="640.9" y1="518" x2="640.9" y2="520.5" stroke="#666" stroke-width="1"/>
<line x1="647.4" y1="518" x2="647.4" y2="527" stroke="#666" stroke-width="1"/>
<line x1="653.9" y1="518" x2="653.9" y2="520.5" stroke="#666" stroke-width="1"/>
<line x1="660.4" y1="518" x2="660.4" y2="520.5" stroke="#666" stroke-width="1"/>
<line x1="666.9" y1="518" x2="666.9" y2="520.5" stroke="#666" stroke-width="1"/>
<line x1="673.4" y1="518" x2="673.4" y2="520.5" stroke="#666" stroke-width="1"/>
<line x1="680.0" y1="518" x2="680.0" y2="520.5" stroke="#666" stroke-width="1"/>
<line x1="686.5" y1="518" x2="686.5" y2="520.5" stroke="#666" stroke-width="1"/>
<line x1="693.0" y1="518" x2="693.0" y2="520.5" stroke="#666" stroke-width="1"/>
<line x1="699.5" y1="518" x2="699.5" y2="520.5" stroke="#666" stroke-width="1"/>
<line x1="706.0" y1="518" x2="706.0" y2="520.5" stroke="#666" stroke-width="1"/>
<line x1="712.5" y1="518" x2="712.5" y2="527" stroke="#666" stroke-width="1"/>
<line x1="719.0" y1="518" x2="719.0" y2="520.5" stroke="#666" stroke-width="1"/>
<line x1="725.4" y1="518" x2="725.4" y2="520.5" stroke="#666" stroke-width="1"/>
<line x1="731.9" y1="518" x2="731.9" y2="520.5" stroke="#666" stroke-width="1"/>
<line x1="734" y1="497.7" x2="738" y2="497.7" stroke="#666" stroke-width="1"/>
<line x1="734" y1="492.0" x2="736" y2="492.0" stroke="#666" stroke-width="1"/>
<line x1="734" y1="486.3" x2="736" y2="486.3" stroke="#666" stroke-width="1"/>
<line x1="734" y1="480.6" x2="736" y2="480.6" stroke="#666" stroke-width="1"/>
<line x1="734" y1="474.9" x2="736" y2="474.9" stroke="#666" stroke-width="1"/>
<line x1="734" y1="469.2" x2="738" y2="469.2" stroke="#666" stroke-width="1"/>
<line x1="734" y1="463.6" x2="736" y2="463.6" stroke="#666" stroke-width="1"/>
<line x1="734" y1="457.9" x2="736" y2="457.9" stroke="#666" stroke-width="1"/>
<line x1="734" y1="452.2" x2="736" y2="452.2" stroke="#666" stroke-width="1"/>
<line x1="734" y1="446.5" x2="736" y2="446.5" stroke="#666" stroke-width="1"/>
<line x1="734" y1="440.8" x2="738" y2="440.8" stroke="#666" stroke-width="1"/>
<line x1="734" y1="435.1" x2="736" y2="435.1" stroke="#666" stroke-width="1"/>
<line x1="734" y1="429.4" x2="736" y2="429.4" stroke="#666" stroke-width="1"/>
<line x1="734" y1="423.7" x2="736" y2="423.7" stroke="#666" stroke-width="1"/>
<line x1="734" y1="418.0" x2="736" y2="418.0" stroke="#666" stroke-width="1"/>
<line x1="734" y1="412.3" x2="738" y2="412.3" stroke="#666" stroke-width="1"/>
<line x1="734" y1="406.7" x2="736" y2="406.7" stroke="#666" stroke-width="1"/>
<line x1="734" y1="401.0" x2="736" y2="401.0" stroke="#666" stroke-width="1"/>
<line x1="734" y1="395.3" x2="736" y2="395.3" stroke="#666" stroke-width="1"/>
<line x1="734" y1="389.6" x2="736" y2="389.6" stroke="#666" stroke-width="1"/>
<line x1="734" y1="383.9" x2="738" y2="383.9" stroke="#666" stroke-width="1"/>
<line x1="734" y1="378.2" x2="736" y2="378.2" stroke="#666" stroke-width="1"/>
<line x1="734" y1="372.5" x2="736" y2="372.5" stroke="#666" stroke-width="1"/>
<line x1="734" y1="366.8" x2="736" y2="366.8" stroke="#666" stroke-width="1"/>
<line x1="734" y1="361.1" x2="736" y2="361.1" stroke="#666" stroke-width="1"/>
<line x1="734" y1="355.4" x2="738" y2="355.4" stroke="#666" stroke-width="1"/>
<line x1="734" y1="349.8" x2="736" y2="349.8" stroke="#666" stroke-width="1"/>
<line x1="734" y1="344.1" x2="736" y2="344.1" stroke="#666" stroke-width="1"/>
<line x1="734" y1="338.4" x2="736" y2="338.4" stroke="#666" stroke-width="1"/>
<line x1="734" y1="332.7" x2="736" y2="332.7" stroke="#666" stroke-width="1"/>
<line x1="734" y1="327.0" x2="738" y2="327.0" stroke="#666" stroke-width="1"/>
<line x1="734" y1="321.3" x2="736" y2="321.3" stroke="#666" stroke-width="1"/>
<line x1="734" y1="315.6" x2="736" y2="315.6" stroke="#666" stroke-width="1"/>
<line x1="734" y1="309.9" x2="736" y2="309.9" stroke="#666" stroke-width="1"/>
<line x1="734" y1="304.2" x2="736" y2="304.2" stroke="#666" stroke-width="1"/>
<line x1="734" y1="298.5" x2="738" y2="298.5" stroke="#666" stroke-width="1"/>
<line x1="734" y1="292.9" x2="736" y2="292.9" stroke="#666" stroke-width="1"/>
<text x="757" y="500.0" font-family="Liberation Sans" font-size="6.5" fill="#444" text-anchor="end">0</text>
<text x="757" y="471.6" font-family="Liberation Sans" font-size="6.5" fill="#444" text-anchor="end">5</text>
<text x="757" y="443.1" font-family="Liberation Sans" font-size="6.5" fill="#444" text-anchor="end">10</text>
<text x="757" y="414.6" font-family="Liberation Sans" font-size="6.5" fill="#444" text-anchor="end">15</text>
<text x="757" y="386.2" font-family="Liberation Sans" font-size="6.5" fill="#444" text-anchor="end">20</text>
<text x="757" y="357.8" font-family="Liberation Sans" font-size="6.5" fill="#444" text-anchor="end">25</text>
<text x="757" y="329.3" font-family="Liberation Sans" font-size="6.5" fill="#444" text-anchor="end">30</text>
<text x="757" y="300.8" font-family="Liberation Sans" font-size="6.5" fill="#444" text-anchor="end">35</text>
<line x1="734" y1="47.1" x2="736" y2="47.1" stroke="#555" stroke-width="1"/>
<line x1="734" y1="54.2" x2="738" y2="54.2" stroke="#555" stroke-width="1"/>
<line x1="734" y1="63.3" x2="738" y2="63.3" stroke="#555" stroke-width="1"/>
<line x1="734" y1="70.4" x2="736" y2="70.4" stroke="#555" stroke-width="1"/>
<line x1="734" y1="76.2" x2="738" y2="76.2" stroke="#555" stroke-width="1"/>
<line x1="734" y1="79.5" x2="736" y2="79.5" stroke="#555" stroke-width="1"/>
<line x1="734" y1="83.3" x2="736" y2="83.3" stroke="#555" stroke-width="1"/>
<line x1="734" y1="87.5" x2="736" y2="87.5" stroke="#555" stroke-width="1"/>
<line x1="734" y1="92.4" x2="736" y2="92.4" stroke="#555" stroke-width="1"/>
<line x1="734" y1="98.2" x2="738" y2="98.2" stroke="#555" stroke-width="1"/>
<line x1="734" y1="105.3" x2="736" y2="105.3" stroke="#555" stroke-width="1"/>
<line x1="734" y1="114.4" x2="736" y2="114.4" stroke="#555" stroke-width="1"/>
<line x1="734" y1="127.3" x2="736" y2="127.3" stroke="#555" stroke-width="1"/>
<line x1="734" y1="149.3" x2="736" y2="149.3" stroke="#555" stroke-width="1"/>
<text x="757.3" y="57.0" font-family="Liberation Sans" font-size="7" fill="#444" text-anchor="end">20000</text>
<text x="757.3" y="66.1" font-family="Liberation Sans" font-size="7" fill="#444" text-anchor="end">15000</text>
<text x="757.3" y="79.1" font-family="Liberation Sans" font-size="7" fill="#444" text-anchor="end">10000</text>
<text x="757.3" y="101.1" font-family="Liberation Sans" font-size="7" fill="#444" text-anchor="end">5000</text>
<text x="6.5" y="526" font-family="Liberation Sans" font-size="6" fill="#333">900</text>
<text x="67.4" y="526" font-family="Liberation Sans" font-size="6" fill="#333" textLength="14" lengthAdjust="spacingAndGlyphs">1910</text>
<text x="130.0" y="526" font-family="Liberation Sans" font-size="6" fill="#333" textLength="14" lengthAdjust="spacingAndGlyphs">1920</text>
<text x="195.1" y="526" font-family="Liberation Sans" font-size="6" fill="#333" textLength="14" lengthAdjust="spacingAndGlyphs">1930</text>
<text x="259.7" y="526" font-family="Liberation Sans" font-size="6" fill="#333" textLength="14" lengthAdjust="spacingAndGlyphs">1940</text>
<text x="324.2" y="526" font-family="Liberation Sans" font-size="6" fill="#333" textLength="14" lengthAdjust="spacingAndGlyphs">1950</text>
<text x="388.7" y="526" font-family="Liberation Sans" font-size="6" fill="#333" textLength="14" lengthAdjust="spacingAndGlyphs">1960</text>
<text x="453.6" y="526" font-family="Liberation Sans" font-size="6" fill="#333" textLength="14" lengthAdjust="spacingAndGlyphs">1970</text>
<text x="518.4" y="526" font-family="Liberation Sans" font-size="6" fill="#333" textLength="14" lengthAdjust="spacingAndGlyphs">1980</text>
<text x="582.8" y="526" font-family="Liberation Sans" font-size="6" fill="#333" textLength="14" lengthAdjust="spacingAndGlyphs">1990</text>
<text x="648.2" y="526" font-family="Liberation Sans" font-size="6" fill="#333" textLength="14" lengthAdjust="spacingAndGlyphs">2000</text>
<text x="713.3" y="526" font-family="Liberation Sans" font-size="6" fill="#333" textLength="14" lengthAdjust="spacingAndGlyphs">2010</text>
<text x="266" y="52" font-family="Liberation Sans" font-size="6.2" fill="#111" stroke="#111" stroke-width="0.15" textLength="207" lengthAdjust="spacingAndGlyphs">Dow Industrials 1885 (12,938.19, 13,109.13, 12,883.89, 13,104.14, +166.029)</text>
<text x="335.5" y="288" font-family="Liberation Sans" font-size="6.4" fill="#111" stroke="#111" stroke-width="0.1" textLength="67.5" lengthAdjust="spacingAndGlyphs">EfficiencyRatio (10.8715)</text>
<text x="57.5" y="168.6" font-family="Liberation Sans" font-weight="bold" font-size="14.2" fill="#2624bc" stroke="#2624bc" stroke-width="0.4">SB</text>
<text x="187.5" y="168.6" font-family="Liberation Sans" font-weight="bold" font-size="14.2" fill="#2624bc" stroke="#2624bc" stroke-width="0.4">SB</text>
<text x="463.7" y="196" font-family="Liberation Sans" font-weight="bold" font-size="14.2" fill="#2624bc" stroke="#2624bc" stroke-width="0.4">SB</text>
<text x="675.2" y="193.8" font-family="Liberation Sans" font-weight="bold" font-size="14.2" fill="#2624bc" stroke="#2624bc" stroke-width="0.4">SB</text>
<text x="293.5" y="79.4" font-family="Liberation Sans" font-weight="bold" font-size="14.4" fill="#2624bc" stroke="#2624bc" stroke-width="0.4" textLength="117.5" lengthAdjust="spacingAndGlyphs">SB = Secular Bear</text>
<text x="5.5" y="16.9" font-family="Liberation Sans" font-weight="bold" font-size="15.6" fill="#1e1e1e" stroke="#1e1e1e" stroke-width="0.45" textLength="104.5" lengthAdjust="spacingAndGlyphs">FIGURE 17.1</text>
<text x="130.6" y="16.9" font-family="Liberation Serif" font-size="16.6" fill="#333" textLength="294.5" lengthAdjust="spacingAndGlyphs">Secular Markets and the Efficiency Ratio</text>
<text x="5.5" y="560.3" font-family="Liberation Serif" font-style="italic" font-size="17.7" fill="#333" textLength="50" lengthAdjust="spacingAndGlyphs">Source:</text>
<text x="58.6" y="560.3" font-family="Liberation Serif" font-size="17.7" fill="#333" textLength="209" lengthAdjust="spacingAndGlyphs">Chart courtesy of MetaStock.</text>
</svg>
</body></html>
